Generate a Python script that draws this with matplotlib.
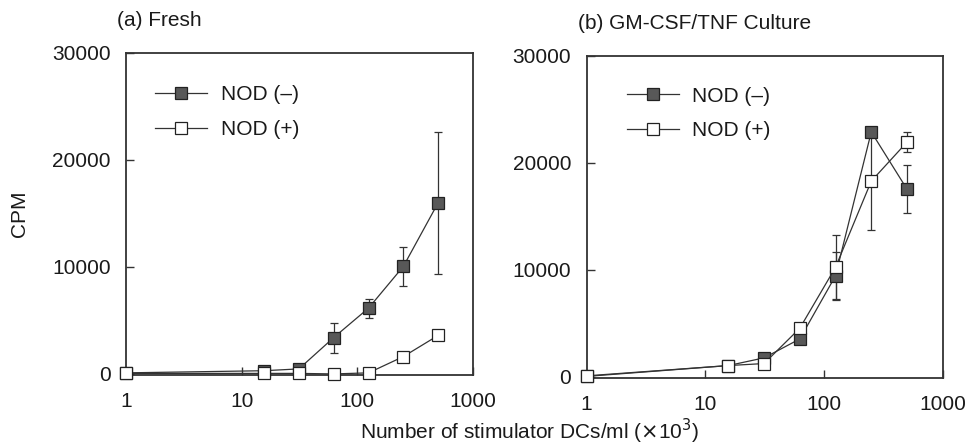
import matplotlib
matplotlib.use("Agg")
import matplotlib.pyplot as plt
import numpy as np
from matplotlib.ticker import FixedLocator, FixedFormatter

# stimulator DCs/ml (x10^3)
doses = [1, 15.6, 31.25, 62.5, 125, 250, 500]

# (a) Fresh
fresh_neg = [100, 300, 470, 3400, 6150, 10050, 16000]
fresh_neg_err = [0, 0, 0, 1400, 900, 1800, 6650]
fresh_pos = [50, 50, 50, 0, 100, 1620, 3600]
fresh_pos_err = [0, 0, 0, 0, 0, 0, 0]

# (b) GM-CSF/TNF culture
cult_neg = [100, 1060, 1780, 3550, 9450, 22900, 17550]
cult_neg_err = [0, 0, 0, 0, 2250, 0, 2250]
cult_pos = [50, 1060, 1250, 4550, 10250, 18300, 21950]
cult_pos_err = [0, 0, 0, 0, 3000, 4600, 900]

series_labels = ["NOD (\u2013)", "NOD (+)"]
panel_titles = ["(a) Fresh", "(b) GM-CSF/TNF Culture"]
x_ticks = [1, 10, 100, 1000]
y_ticks = [0, 10000, 20000, 30000]

plt.rcParams["font.family"] = ["Liberation Sans", "DejaVu Sans"]
plt.rcParams["font.size"] = 15

LINE = "#333333"
FILL = "#585858"

fig = plt.figure(figsize=(9.74, 4.46), dpi=100)
ax_a = fig.add_axes([0.1294, 0.1592, 0.3562, 0.7220])
ax_b = fig.add_axes([0.6023, 0.1525, 0.3656, 0.7220])

panels = [
    (ax_a, fresh_neg, fresh_neg_err, fresh_pos, fresh_pos_err, 0.084, 0.90),
    (ax_b, cult_neg, cult_neg_err, cult_pos, cult_pos_err, 0.112, 0.905),
]

for ax, title, (_, neg, neg_err, pos, pos_err, leg_x, leg_y) in zip(
    [ax_a, ax_b], panel_titles, panels
):
    for vals, errs, face, label, z in [
        (neg, neg_err, FILL, series_labels[0], 3),
        (pos, pos_err, "white", series_labels[1], 4),
    ]:
        ax.plot(doses, vals, color=LINE, lw=0.9, marker="s", ms=8,
                mfc=face, mec="#222222", mew=0.9, label=label,
                zorder=z, clip_on=False)
        xs = [d for d, e in zip(doses, errs) if e > 0]
        ys = [v for v, e in zip(vals, errs) if e > 0]
        es = [e for e in errs if e > 0]
        if xs:
            ax.errorbar(xs, ys, yerr=es, fmt="none", ecolor=LINE,
                        elinewidth=0.9, capsize=3, capthick=0.9, zorder=2)

    ax.set_xscale("log")
    ax.set_xlim(1, 1000)
    ax.set_ylim(-100, 30000)
    ax.xaxis.set_major_locator(FixedLocator(x_ticks))
    ax.xaxis.set_major_formatter(FixedFormatter([str(t) for t in x_ticks]))
    ax.xaxis.set_minor_locator(FixedLocator([]))
    ax.set_yticks(y_ticks)
    ax.set_yticklabels([str(t) for t in y_ticks])
    ax.tick_params(axis="x", direction="in", length=6, width=1, color=LINE,
                   pad=12, labelcolor="#1a1a1a")
    ax.tick_params(axis="y", direction="in", length=6, width=1, color=LINE,
                   pad=11, labelcolor="#1a1a1a")
    for sp in ax.spines.values():
        sp.set_color(LINE)
        sp.set_linewidth(1.3)

    ax.text(-0.025, 1.1, title, transform=ax.transAxes, ha="left",
            va="center", fontsize=15, color="#1a1a1a")

    leg = ax.legend(loc="upper left", bbox_to_anchor=(leg_x, leg_y),
                    frameon=False, handlelength=2.5, handletextpad=0.65,
                    labelspacing=0.75, borderpad=0, borderaxespad=0,
                    fontsize=15)
    for t in leg.get_texts():
        t.set_color("#1a1a1a")

ax_a.set_ylabel("CPM", fontsize=15, color="#1a1a1a")
ax_a.yaxis.set_label_coords(-0.28, 0.5)

fig.text(0.544, 0.032, "Number of stimulator DCs/ml ($\\times$10$^3$)",
         ha="center", va="center", fontsize=15, color="#1a1a1a")

fig.savefig("out.png", dpi=100)
